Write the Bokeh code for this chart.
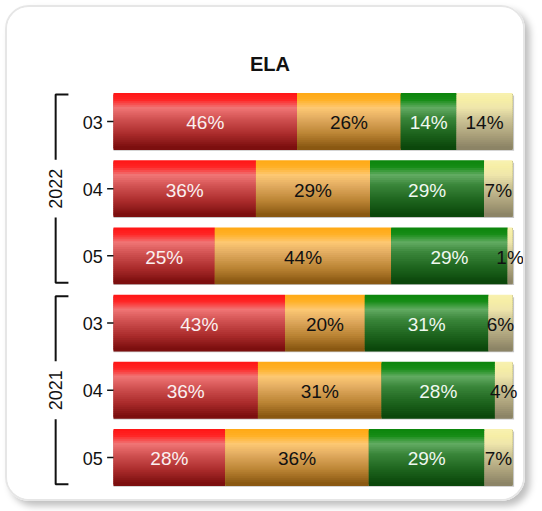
from bokeh.plotting import figure
from bokeh.models import ColumnDataSource, Range1d
from bokeh.embed import file_html
from bokeh.resources import INLINE
from bokeh.core.properties import value

# ---------------- data ----------------
chart_title = "ELA"
group_labels = ["2022", "2021"]
group_sizes = [3, 3]
grades = ["03", "04", "05", "03", "04", "05"]
red_vals = [46, 35.7, 25.4, 43, 36.2, 28]
orange_vals = [26, 28.6, 44.2, 20, 31.0, 36]
green_vals = [14, 28.6, 29.2, 31, 28.4, 29]
yellow_vals = [14, 7.1, 1.2, 6, 4.4, 7]

# ---------------- style ----------------
FONT = "Liberation Sans"
red_stops = [(0, "#ff1515"), (0.12, "#ff2424"), (0.27, "#f07575"), (0.45, "#d45555"), (0.75, "#a92a2a"), (1, "#780d0d")]
orange_stops = [(0, "#ffa915"), (0.12, "#ffb025"), (0.27, "#fdc873"), (0.45, "#e3ad62"), (0.75, "#b98232"), (1, "#865510")]
green_stops = [(0, "#0c850c"), (0.12, "#158c15"), (0.27, "#62ab62"), (0.45, "#3a863a"), (0.75, "#1c621c"), (1, "#0a450a")]
yellow_stops = [(0, "#f8f1b0"), (0.12, "#f6eea6"), (0.27, "#efe6ab"), (0.45, "#d0c798"), (0.75, "#aca27c"), (1, "#8a8264")]
series = [
    (red_vals, red_stops, "#fbf0f0"),
    (orange_vals, orange_stops, "#111111"),
    (green_vals, green_stops, "#f0f8f0"),
    (yellow_vals, yellow_stops, "#111111"),
]
N_STRIPS = 28
BAR_H = 0.82


def hex2rgb(h):
    h = h.lstrip("#")
    return tuple(int(h[i:i + 2], 16) for i in (0, 2, 4))


def grad_color(stops, t):
    for (t0, c0), (t1, c1) in zip(stops[:-1], stops[1:]):
        if t0 <= t <= t1:
            f = (t - t0) / (t1 - t0) if t1 > t0 else 0
            a, b = hex2rgb(c0), hex2rgb(c1)
            return "#%02x%02x%02x" % tuple(round(a[i] + (b[i] - a[i]) * f) for i in range(3))
    return stops[-1][1]


rows = list(range(len(grades)))

p = figure(width=520, height=496,
           x_range=Range1d(-26.57, 103.76), y_range=Range1d(5.685, -1.696),
           x_axis_type=None, y_axis_type=None, title=None,
           min_border=0, toolbar_location=None, output_backend="svg")
p.grid.visible = False
p.outline_line_color = None
p.background_fill_color = "white"
p.border_fill_color = "white"
p.margin = (5, 0, 0, 5)
p.styles = {"border": "2px solid #e6e6e6", "border-radius": "24px",
            "box-shadow": "5px 5px 7px rgba(0,0,0,0.25)", "overflow": "hidden"}

# bar shadows
totals = [sum(s[0][i] for s in series) for i in rows]
p.hbar(y=[r + 0.025 for r in rows], left=[0] * len(rows), right=[t + 0.4 for t in totals],
       height=BAR_H, fill_color="#a0a0a0", fill_alpha=0.6, line_color=None)

# gradient bars, drawn as thin overlapping strips (top to bottom)
cum = [0.0] * len(rows)
lab_x, lab_y, lab_t, lab_c = [], [], [], []
strip_h = BAR_H / N_STRIPS
for vals, stops, tcol in series:
    ys, ls, rs, cs = [], [], [], []
    for i in rows:
        left, right = cum[i], cum[i] + vals[i]
        for k in range(N_STRIPS):
            t = (k + 0.5) / N_STRIPS
            ys.append(i - BAR_H / 2 + (k + 0.5) * strip_h)
            ls.append(left)
            rs.append(right)
            cs.append(grad_color(stops, t))
        lab_x.append((left + right) / 2)
        lab_y.append(i + 0.02)
        lab_t.append(f"{round(vals[i])}%")
        lab_c.append(tcol)
        cum[i] = right
    src = ColumnDataSource(dict(y=ys, left=ls, right=rs, color=cs))
    # base fill so no seams show between strips
    p.hbar(y=rows, left=[c - v for c, v in zip(cum, vals)], right=cum, height=BAR_H,
           fill_color=grad_color(stops, 0.6), line_color=None)
    p.hbar(y="y", left="left", right="right", height=strip_h * 1.9,
           fill_color="color", line_color=None, source=src)

p.text(x=lab_x, y=lab_y, text=lab_t, text_color=lab_c, text_font=value(FONT),
       text_font_size="19px", text_align="center", text_baseline="middle")

# category (grade) tick labels and tick marks
p.text(x=[-2.7] * len(rows), y=[r + 0.01 for r in rows], text=grades, text_color="#111111",
       text_font=value(FONT), text_font_size="18px", text_align="right", text_baseline="middle")
p.segment(x0=[-1.6] * len(rows), x1=[0] * len(rows), y0=rows, y1=rows, line_color="#111111", line_width=1.5)

# group brackets with rotated group labels
start = 0
bx, bx_end = -14.5, -11.3
for label, size in zip(group_labels, group_sizes):
    top = start - 0.4
    bot = start + size - 1 + 0.4
    mid = start + (size - 1) / 2
    gap = 0.43
    p.line(x=[bx_end, bx, bx], y=[top, top, mid - gap], line_color="#111111", line_width=2)
    p.line(x=[bx, bx, bx_end], y=[mid + gap, bot, bot], line_color="#111111", line_width=2)
    p.text(x=[bx], y=[mid], text=[label], angle=1.5708, text_color="#111111",
           text_font=value(FONT), text_font_size="18px", text_align="center", text_baseline="middle")
    start += size

# title
p.text(x=[(p.x_range.start + p.x_range.end) / 2 + 0.6], y=[-0.85], text=[chart_title], text_color="#111111",
       text_font=value(FONT), text_font_size="20px", text_font_style="bold",
       text_align="center", text_baseline="middle")

open("out.html", "w").write(file_html(p, INLINE))
